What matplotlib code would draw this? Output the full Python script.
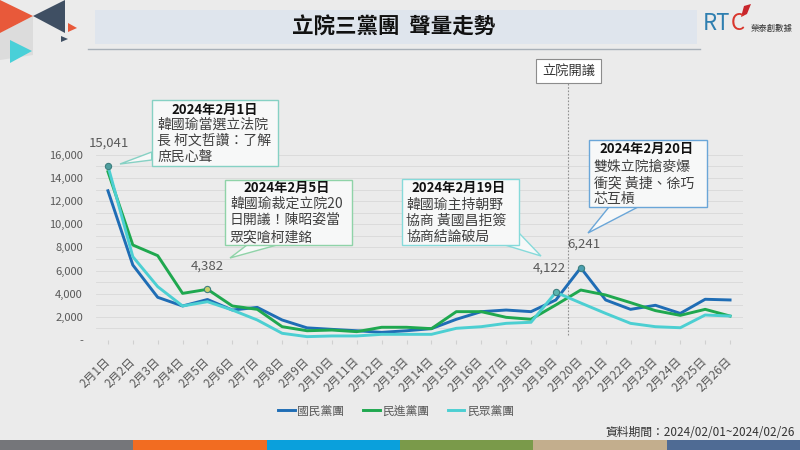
import matplotlib
matplotlib.use("Agg")
import matplotlib.pyplot as plt
from matplotlib.patches import Polygon, Rectangle

plt.rcParams['font.family'] = ['Noto Sans CJK TC', 'DejaVu Sans']

# data
days = [f"2月{d}日" for d in range(1, 27)]
kmt = [12900, 6480, 3690, 2940, 3500, 2590, 2820, 1730, 1050, 920, 800, 660, 800,
       980, 1790, 2450, 2590, 2450, 3460, 6241, 3460, 2650, 3000, 2300, 3520, 3460]
dpp = [14550, 8210, 7290, 4030, 4382, 2940, 2650, 1150, 800, 860, 720, 1100, 1100,
       980, 2450, 2450, 1960, 1790, 3030, 4320, 3890, 3230, 2540, 2130, 2650, 2070]
tpp = [15041, 7200, 4610, 2940, 3310, 2590, 1730, 580, 290, 350, 350, 490, 490,
       490, 1010, 1150, 1440, 1530, 4122, 3200, 2300, 1440, 1150, 1060, 2160, 2070]
series_names = ["國民黨團", "民進黨團", "民眾黨團"]
series_colors = ["#1f6db5", "#1fa84f", "#4ccfd2"]

# highlighted points: (series index, day index, marker color, label offset)
highlights = [(2, 0, "#4f9e9e", (1, 12)), (1, 4, "#c8d06a", (0, 12)),
              (2, 18, "#5ab5b0", (-5, 13)), (0, 19, "#4a9fb0", (2, 12))]

notes = [
    ("2024年2月1日", ["韓國瑜當選立法院", "長 柯文哲讚：了解", "庶民心聲"]),
    ("2024年2月5日", ["韓國瑜裁定立院20", "日開議！陳昭姿當", "眾突嗆柯建銘"]),
    ("2024年2月19日", ["韓國瑜主持朝野", "協商 黃國昌拒簽", "協商結論破局"]),
    ("2024年2月20日", ["雙姝立院搶麥爆", "衝突 黃捷、徐巧", "芯互槓"]),
]

bg = "#ebebeb"
fig = plt.figure(figsize=(8, 4.5), dpi=100, facecolor=bg)

ax = fig.add_axes([95.5 / 800, 110 / 450, 647 / 800, 280 / 450])
ax.set_facecolor(bg)
all_series = [kmt, dpp, tpp]
x = list(range(len(days)))
for vals, name, col in zip(all_series, series_names, series_colors):
    ax.plot(x, vals, color=col, lw=2.1, label=name, zorder=3)

for si, di, mc, off in highlights:
    v = all_series[si][di]
    ax.plot(di, v, "o", ms=4.5, mfc=mc, mec="#3d7f7f", mew=0.8, zorder=4)
    ax.annotate(f"{v:,}", (di, v), xytext=off, textcoords="offset points",
                ha="center", va="bottom", fontsize=9.5, color="#595959")

ax.set_xlim(-0.5, 25.5)
ax.set_ylim(0, 24200)
for g in range(0, 16001, 1000):
    ax.axhline(g, color="#d8d8d8", lw=0.6, zorder=1)
ax.set_yticks(range(0, 16001, 2000))
ax.set_yticklabels(["-"] + [f"{v:,}" for v in range(2000, 16001, 2000)])
ax.set_xticks(x)
ax.set_xticklabels(days, rotation=45, ha="right", va="center", rotation_mode="anchor")
ax.tick_params(axis="y", length=0, pad=9, labelsize=8, labelcolor="#595959")
ax.tick_params(axis="x", length=3, color="#d0d0d0", pad=11, labelsize=8.5, labelcolor="#595959")
for s in ax.spines.values():
    s.set_visible(False)

# 立院開議 line
ax.vlines(18.5, 430, 22300, colors="#909090", linestyles=(0, (1.5, 1.5)), lw=0.8, zorder=2)
ax.text(18.5, 23250, "立院開議", ha="center", va="center", fontsize=9.5, color="#333333",
        bbox=dict(boxstyle="square,pad=0.45", fc="white", ec="#8c8c8c", lw=0.8), zorder=5)

fig.legend(loc="center", bbox_to_anchor=(0.495, 1 - 411 / 450), ncol=3, frameon=False,
           fontsize=8.5, handlelength=1.4, handletextpad=0.2, columnspacing=1.6,
           labelcolor="#595959")

# overlay in pixel coords for decorations
ov = fig.add_axes([0, 0, 1, 1], zorder=5)
ov.set_xlim(0, 800)
ov.set_ylim(450, 0)
ov.axis("off")
ov.patch.set_alpha(0)

# corner triangles
ov.add_patch(Polygon([(0, 33), (33, 16), (33, 55), (0, 60)], closed=True, fc="#dcdcdc", ec="none"))
ov.add_patch(Polygon([(0, 0), (33, 16), (0, 33)], closed=True, fc="#e8593a", ec="none"))
ov.add_patch(Polygon([(65, 0), (65, 33), (33, 16)], closed=True, fc="#3f4f63", ec="none"))
ov.add_patch(Polygon([(10, 40), (32, 51), (10, 63)], closed=True, fc="#49d0d8", ec="none"))
ov.add_patch(Polygon([(68, 23), (77, 28), (68, 32)], closed=True, fc="#e8593a", ec="none"))
ov.add_patch(Polygon([(61, 36), (68, 39), (61, 42)], closed=True, fc="#3f4f63", ec="none"))

# title
ov.add_patch(Rectangle((95, 10), 602, 34, fc="#dfe5ed", ec="none"))
ov.plot([88, 700], [49, 49], color="#a8b0b8", lw=1)
ov.text(394, 27, "立院三黨團  聲量走勢", ha="center", va="center", fontsize=15.5,
        fontweight="bold", color="#111111")

# logo
ov.text(703, 23, "RT", ha="left", va="center", fontsize=16, color="#2f7fb0")
ov.text(730.5, 23, "C", ha="left", va="center", fontsize=16, color="#d9362c")
ov.add_patch(Polygon([(744, 6), (751, 4), (747, 14), (741, 17)], closed=True, fc="#c8262c", ec="none"))
ov.text(772, 28, "榮泰創數據", ha="center", va="center", fontsize=6, color="#333333")

# callout boxes
box_geo = [
    (151.7, 278.3, 100, 166, "#86d1c4"),
    (225, 352, 180, 245, "#8fd3a8"),
    (402, 519, 179, 245, "#86dada"),
    (589, 707, 140, 207, "#6aa6d8"),
]
tails = [
    [(151.7, 160), (120, 164), (151.7, 152)],
    [(247, 245), (230, 258), (277, 245)],
    [(519, 233), (541, 256), (505, 245)],
    [(609, 207), (588, 233), (638, 207)],
]
for (x0, x1, y0, y1, ec), tail in zip(box_geo, tails):
    ov.add_patch(Polygon(tail, closed=True, fc="#f7f8f8", ec=ec, lw=1, zorder=2))
    ov.add_patch(Rectangle((x0, y0), x1 - x0, y1 - y0, fc="#f7f8f8", ec=ec, lw=1, zorder=3))

head_pos = [(215, 110), (287, 188), (459, 188), (647, 149)]
body_pos = [(157, [125, 141, 157]), (230, [204, 220, 237]),
            (406, [205, 221, 237]), (594, [167, 183, 199])]
for (head, lines), (hx, hy), (bx, bys) in zip(notes, head_pos, body_pos):
    ov.text(hx, hy, head, ha="center", va="center", fontsize=9.5, fontweight="bold",
            color="#111111", zorder=4)
    for ln, by in zip(lines, bys):
        ov.text(bx, by, ln, ha="left", va="center", fontsize=10, color="#404040", zorder=4)

ov.text(795, 432, "資料期間：2024/02/01~2024/02/26", ha="right", va="center",
        fontsize=8.5, color="#333333")

# bottom color bar
bar_cols = ["#75767a", "#f26c21", "#0aa0dc", "#7a9a4a", "#c3ae8d", "#4f6b94"]
for i, c in enumerate(bar_cols):
    ov.add_patch(Rectangle((i * 800 / 6, 440), 800 / 6 + 0.5, 10, fc=c, ec="none"))

fig.savefig("out.png", dpi=100, facecolor=bg)
